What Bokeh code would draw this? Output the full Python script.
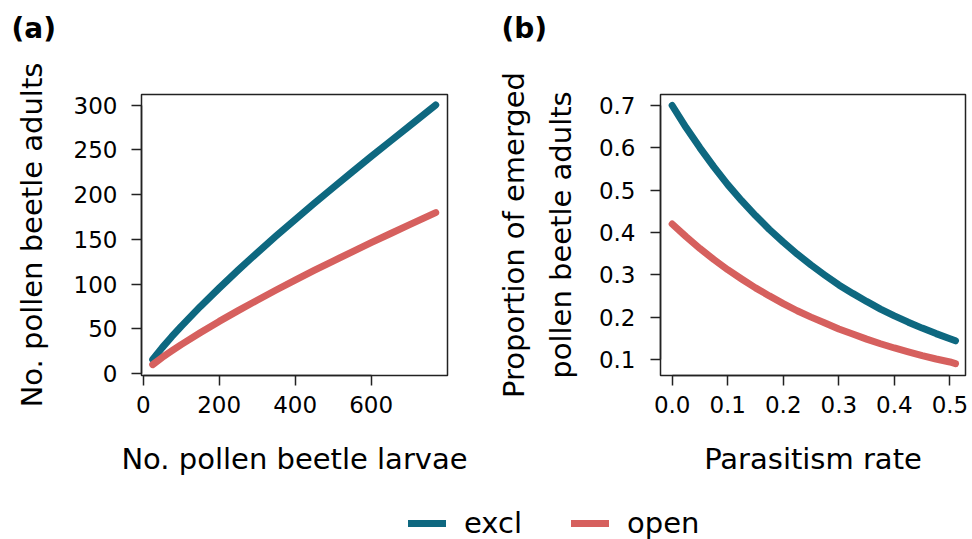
from bokeh.plotting import figure
from bokeh.layouts import column, row
from bokeh.models import (LinearAxis, FixedTicker, Range1d, Legend, LegendItem,
                          NumeralTickFormatter, Label)
from bokeh.embed import file_html
from bokeh.resources import INLINE

# ---- data ----
larvae = [25, 50, 75, 100, 150, 200, 250, 300, 350, 400, 450, 500, 550, 600, 650, 700, 770]
adults_excl = [15.7, 29.0, 41.2, 52.8, 74.8, 95.5, 115.6, 135.0, 153.8, 172.2, 190.2, 207.9,
               225.4, 242.6, 259.6, 276.6, 300.3]
adults_open = [10.0, 18.0, 25.3, 32.3, 45.6, 58.3, 70.3, 82.0, 93.4, 104.4, 115.3, 125.8,
               136.1, 146.3, 156.3, 166.2, 180.0]

parasitism = [0.0, 0.025, 0.05, 0.075, 0.1, 0.125, 0.15, 0.175, 0.2, 0.225, 0.25, 0.275,
              0.3, 0.325, 0.35, 0.375, 0.4, 0.425, 0.45, 0.475, 0.5, 0.51]
prop_excl = [0.700, 0.648, 0.600, 0.555, 0.513, 0.475, 0.440, 0.407, 0.377, 0.349, 0.323, 0.299,
             0.276, 0.256, 0.237, 0.219, 0.203, 0.188, 0.174, 0.161, 0.149, 0.144]
prop_open = [0.420, 0.390, 0.362, 0.336, 0.312, 0.290, 0.269, 0.250, 0.232, 0.215, 0.200, 0.186,
             0.172, 0.160, 0.148, 0.137, 0.127, 0.118, 0.109, 0.101, 0.094, 0.090]

x_ticks_a = [0, 200, 400, 600]
y_ticks_a = [0, 50, 100, 150, 200, 250, 300]
x_ticks_b = [0.0, 0.1, 0.2, 0.3, 0.4, 0.5]
y_ticks_b = [0.1, 0.2, 0.3, 0.4, 0.5, 0.6, 0.7]

panel_tags = ["(a)", "(b)"]
series_names = ["excl", "open"]
TEAL = "#0e6880"
RED = "#d6605e"
FONT = "DejaVu Sans"
TICK_FS = "23px"
LAB_FS = "29px"


def style_axis(ax, ticks, bounds, label, label_standoff, fmt=None):
    ax.ticker = FixedTicker(ticks=ticks)
    ax.bounds = bounds
    ax.major_tick_out = 10
    ax.major_tick_in = 0
    ax.minor_tick_out = 0
    ax.minor_tick_in = 0
    ax.major_tick_line_width = 1.5
    ax.major_tick_line_color = "#222222"
    ax.axis_line_width = 1.5
    ax.axis_line_color = "#222222"
    ax.major_label_text_font = FONT
    ax.major_label_text_font_size = TICK_FS
    ax.major_label_text_color = "black"
    ax.axis_label = label
    ax.axis_label_text_font = FONT
    ax.axis_label_text_font_size = LAB_FS
    ax.axis_label_text_font_style = "normal"
    ax.axis_label_text_color = "black"
    ax.axis_label_standoff = label_standoff
    if fmt is not None:
        ax.formatter = fmt


def strip(width, height):
    s = figure(width=width, height=height, x_range=Range1d(1, 2), y_range=Range1d(1, 2),
               output_backend="svg", toolbar_location=None, min_border=0)
    s.axis.visible = False
    s.grid.visible = False
    s.outline_line_color = None
    return s


TOP = 48          # height of the strip carrying the panel tags
H = 480 - TOP     # height of the two panels
FRAME_TOP = 94 - TOP


def base_fig(width, xr, yr, left, right):
    p = figure(width=width, height=H, x_range=Range1d(*xr), y_range=Range1d(*yr),
               output_backend="svg", toolbar_location=None,
               min_border_left=left, min_border_right=right,
               min_border_top=FRAME_TOP, min_border_bottom=480 - 375)
    p.grid.visible = False
    p.outline_line_color = "#222222"
    p.outline_line_width = 1.5
    p.background_fill_color = "white"
    p.border_fill_color = "white"
    return p


# ---- tag strip ----
pt = strip(972, TOP)
for tag, xs in zip(panel_tags, [11, 501]):
    pt.add_layout(Label(x=xs, y=TOP - 11, x_units="screen", y_units="screen",
                        text=tag, text_font=FONT, text_font_size="28px",
                        text_font_style="bold", text_color="black",
                        text_align="left", text_baseline="top"))

# ---- panel (a) ----
pa = base_fig(480, (-4.5, 801), (-2.2, 312), 141, 33)
pa.line(larvae, adults_excl, line_color=TEAL, line_width=7, line_cap="round", line_join="round")
pa.line(larvae, adults_open, line_color=RED, line_width=7, line_cap="round", line_join="round")
style_axis(pa.xaxis[0], x_ticks_a, (0, 600), "No. pollen beetle larvae", 26)
pa.xaxis[0].major_label_standoff = 10
style_axis(pa.yaxis[0], y_ticks_a, (0, 300), "No. pollen beetle adults", 22)
pa.yaxis[0].major_label_standoff = 14

# ---- panel (b) ----
pb = base_fig(492, (-0.021, 0.528), (0.062, 0.726), 180, 7)
pb.line(parasitism, prop_excl, line_color=TEAL, line_width=7, line_cap="round", line_join="round")
pb.line(parasitism, prop_open, line_color=RED, line_width=7, line_cap="round", line_join="round")
style_axis(pb.xaxis[0], x_ticks_b, (0, 0.5), "Parasitism rate", 26, NumeralTickFormatter(format="0.0"))
pb.xaxis[0].major_label_standoff = 10
style_axis(pb.yaxis[0], y_ticks_b, (0.1, 0.7), "pollen beetle adults", 18, NumeralTickFormatter(format="0.0"))
pb.yaxis[0].major_label_standoff = 15

extra = LinearAxis(ticker=FixedTicker(ticks=[]), axis_line_color=None,
                   major_tick_out=0, major_tick_in=0, minor_tick_out=0, minor_tick_in=0,
                   major_label_standoff=0, major_label_text_font_size="0px",
                   axis_label="Proportion of emerged", axis_label_text_font=FONT,
                   axis_label_text_font_size=LAB_FS, axis_label_text_font_style="normal",
                   axis_label_text_color="black", axis_label_standoff=10)
pb.add_layout(extra, "left")

# ---- legend strip (proxy renderers sit outside the visible range) ----
pl = strip(972, 539 - 480)
r1 = pl.line([0], [0], line_color=TEAL, line_width=7, line_cap="round")
r2 = pl.line([0], [0], line_color=RED, line_width=7, line_cap="round")
legend = Legend(items=[LegendItem(label=series_names[0], renderers=[r1]),
                       LegendItem(label=series_names[1], renderers=[r2])],
                orientation="horizontal", location=(408, -1),
                glyph_width=38, glyph_height=20, label_standoff=18, spacing=49,
                padding=0, margin=0, border_line_color=None, background_fill_alpha=0,
                label_text_font=FONT, label_text_font_size=LAB_FS, label_text_color="black")
pl.add_layout(legend, "center")

layout = column(pt, row(pa, pb, spacing=0), pl, spacing=0)
open("out.html", "w").write(file_html(layout, INLINE))
